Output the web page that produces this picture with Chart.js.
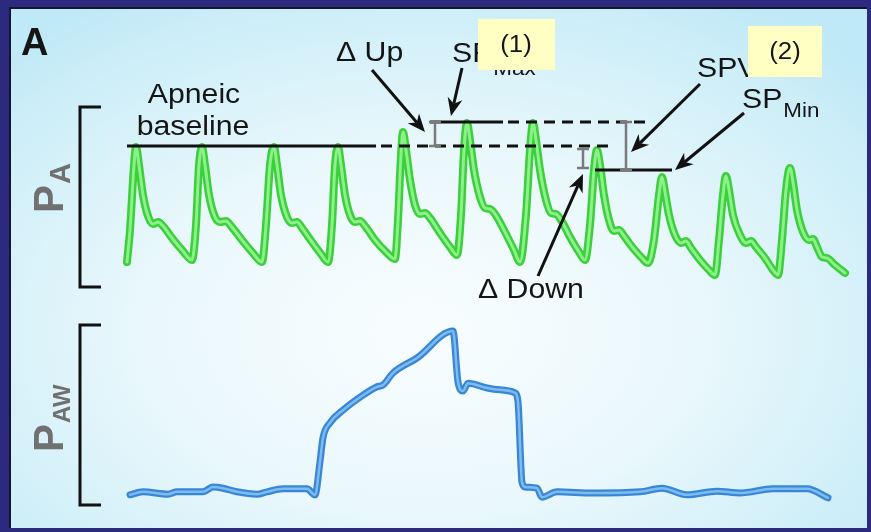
<!DOCTYPE html>
<html>
<head>
<meta charset="utf-8">
<script src="https://cdn.jsdelivr.net/npm/chart.js@4.4.1/dist/chart.umd.min.js"></script>
<style>
html, body { margin: 0; padding: 0; width: 871px; height: 532px; overflow: hidden; background: #2c2a7e; }
#panel {
    position: absolute; left: 9px; top: 7px; width: 858px; height: 521px; box-sizing: border-box;
    border-left: 2px solid #151530; border-top: 2px solid #151530;
    background: radial-gradient(ellipse 70% 75% at 48% 62%, #f8fdfe 0%, #eaf8fc 45%, #cdeef8 85%, #bfe9f6 100%);
}
canvas { position: absolute; left: 0; }
#graficaPA { top: 0; }
#graficaAW { top: 312px; }
</style>
</head>
<body>
<div id="panel"></div>
<canvas id="graficaPA" width="871" height="312"></canvas>
<canvas id="graficaAW" width="871" height="220"></canvas>
<script>
const tiempoPA = [
    270, 300, 340, 360, 390, 430, 480, 530, 580, 630, 720, 820, 920,
    960, 990, 1020, 1050, 1090, 1150, 1200, 1260, 1310, 1420, 1520, 1620,
    1660, 1700, 1740, 1770, 1810, 1870, 1920, 1970, 2020, 2120, 2210, 2280,
    2320, 2350, 2380, 2410, 2450, 2500, 2550, 2600, 2650, 2750, 2860, 2950,
    2980, 3010, 3030, 3060, 3100, 3150, 3200, 3250, 3300, 3400, 3500, 3570,
    3610, 3640, 3670, 3700, 3740, 3800, 3850, 3900, 3950, 4050, 4140, 4200,
    4260, 4300, 4330, 4360, 4400, 4460, 4510, 4560, 4610, 4700, 4790, 4850,
    4900, 4940, 4970, 5000, 5040, 5090, 5140, 5190, 5240, 5330, 5420, 5480,
    5540, 5590, 5620, 5650, 5690, 5750, 5810, 5860, 5910, 6000, 6090, 6150,
    6190, 6230, 6260, 6290, 6330, 6400, 6460, 6510, 6560, 6650, 6730, 6780,
    6820, 6860, 6900, 6930, 6970, 7030, 7090, 7130, 7170, 7220, 7270, 7350, 7450
];
const presionPA = [
    62.5, 78.5, 111, 120, 111, 96, 85.5, 81.5, 82.5, 80.5, 74.5, 68.5, 63.5,
    81, 111, 120, 111, 96, 85, 82.5, 83, 80.5, 73.5, 67.5, 62.5,
    81, 111, 120, 111, 96, 85, 82, 82.5, 79.5, 72.5, 66.5, 62.5,
    81, 111, 120, 111, 96, 86, 82.5, 83, 80.5, 73.5, 67.5, 64,
    83.5, 116, 127.5, 118.5, 103.5, 91, 86.5, 87, 84.5, 77, 70, 66,
    86, 118.5, 132, 123.5, 108.5, 95, 89.5, 89, 86.5, 77.5, 68.5, 62.5,
    86, 118.5, 132, 123.5, 108.5, 93.5, 87, 86.5, 83.5, 75, 67.5, 63.5,
    81, 108.5, 118.5, 111, 96, 83.5, 78, 78.5, 75.5, 69.5, 64.5, 62,
    73.5, 96, 105, 97.5, 86, 76, 72, 73, 69.5, 63.5, 58.5, 56,
    73.5, 96, 105.5, 98.5, 86, 76, 72, 73, 70, 64.5, 58.5, 56,
    73.5, 98.5, 109.5, 102.5, 88.5, 77.5, 73.5, 74, 70, 65, 64.5, 61, 57
];

// Presion de via aerea (cmH2O), trazo azul
const tiempoAW = [
    300, 430, 680, 770, 1030, 1130, 1230, 1370, 1570, 1670, 1830, 2070, 2150,
    2200, 2230, 2300, 2430, 2630, 2770, 2830, 2930, 3170, 3530,
    3580, 3630, 3680, 3870, 4000, 4150, 4180, 4220, 4250, 4370, 4420,
    4570, 4930, 5400, 5620, 5870, 6170, 6400, 6730, 7070, 7280
];
const presionAW = [
    1.7, 2.2, 1.8, 2.2, 2.2, 3.0, 2.8, 2.2, 1.8, 2.2, 2.7, 2.7, 1.7,
    7.2, 11.2, 13.7, 15.8, 18.3, 19.7, 20.0, 22.0, 24.5, 29.0,
    20.5, 19.0, 20.3, 19.5, 19.2, 18.7, 17.2, 3.8, 3.0, 2.8, 1.3,
    2.2, 2.0, 2.2, 2.8, 1.7, 2.3, 2.0, 2.7, 2.7, 1.2
];

// Rango de ejes (ms, mmHg, cmH2O)
const rangoTiempo = [0, 7600];
const rangoPA = [50, 140];
const rangoAW = [0, 30];

// Referencias marcadas en la figura (mmHg)
const lineaApnea = { valor: 120.5, inicio: 270, finSolida: 2760, fin: 5130 };
const lineaSPMax = { valor: 132.5, inicio: 3300, finSolida: 4030, fin: 5470 };
const lineaSPMin = { valor: 108.5, inicio: 4950, fin: 5720 };
const barraUp = { t: 3350, de: 132.5, a: 120.5 };
const barraSPV = { t: 5260, de: 132.5, a: 108.5 };
const barraDown = { t: 4830, de: 119, a: 109.5 };
// flechas: [t1, p1, t2, p2]
const flechaUp = [2720, 158.5, 3250, 127.5];
const flechaMax = [3620, 159.5, 3510, 135.5];
const flechaSPV = [6000, 151.5, 5310, 117.5];
const flechaMin = [6440, 137, 5750, 108.5];
const flechaDown = [4380, 55.5, 4830, 106.5];

const FUENTE = "'Liberation Sans', Arial, Helvetica, sans-serif";
const ESTIRA = 1.12; // el texto original sale un poco ensanchado

function puntos(xs, ys) {
    return xs.map((t, i) => ({ x: t, y: ys[i] }));
}

function flecha(ctx, x1, y1, x2, y2) {
    const ang = Math.atan2(y2 - y1, x2 - x1);
    const largo = 18, ancho = 7.5;
    const cos = Math.cos(ang), sin = Math.sin(ang);
    ctx.beginPath();
    ctx.moveTo(x1, y1);
    ctx.lineTo(x2 - cos * largo * 0.7, y2 - sin * largo * 0.7);
    ctx.stroke();
    ctx.beginPath();
    ctx.moveTo(x2, y2);
    ctx.lineTo(x2 - largo * cos + ancho * sin, y2 - largo * sin - ancho * cos);
    ctx.lineTo(x2 - largo * 0.7 * cos, y2 - largo * 0.7 * sin);
    ctx.lineTo(x2 - largo * cos - ancho * sin, y2 - largo * sin + ancho * cos);
    ctx.closePath();
    ctx.fill();
}

function barraI(ctx, x, y1, y2) {
    ctx.save();
    ctx.strokeStyle = '#7a7a7a';
    ctx.lineWidth = 2.5;
    ctx.beginPath();
    ctx.moveTo(x, y1); ctx.lineTo(x, y2);
    ctx.moveTo(x - 6, y1); ctx.lineTo(x + 6, y1);
    ctx.moveTo(x - 6, y2); ctx.lineTo(x + 6, y2);
    ctx.stroke();
    ctx.restore();
}

function corchete(ctx, x, yTop, yBot) {
    ctx.save();
    ctx.strokeStyle = '#111';
    ctx.lineWidth = 3;
    ctx.beginPath();
    ctx.moveTo(x + 21, yTop); ctx.lineTo(x, yTop); ctx.lineTo(x, yBot); ctx.lineTo(x + 21, yBot);
    ctx.stroke();
    ctx.restore();
}

function etiquetaVertical(ctx, base, sub, x, y, tamSub) {
    ctx.save();
    ctx.translate(x, y);
    ctx.rotate(-Math.PI / 2);
    ctx.fillStyle = '#707070';
    ctx.textAlign = 'left';
    ctx.textBaseline = 'alphabetic';
    ctx.font = 'bold 42px ' + FUENTE;
    ctx.fillText(base, 0, 0);
    const w = ctx.measureText(base).width;
    ctx.font = 'bold ' + tamSub + 'px ' + FUENTE;
    ctx.fillText(sub, w + 1, 7);
    ctx.restore();
}

// texto ensanchado; devuelve el ancho en pantalla
function texto(ctx, s, x, y, tam, align) {
    ctx.save();
    ctx.font = tam + 'px ' + FUENTE;
    ctx.textAlign = align || 'left';
    ctx.translate(x, y);
    ctx.scale(ESTIRA, 1);
    ctx.fillText(s, 0, 0);
    const w = ctx.measureText(s).width * ESTIRA;
    ctx.restore();
    return w;
}

function conSubindice(ctx, base, sub, x, y, baja) {
    const w = texto(ctx, base, x, y, 27);
    texto(ctx, sub, x + w + 1, y + baja, 20);
}

const anotacionesPA = {
    id: 'anotacionesPA',
    afterDatasetsDraw(chart) {
        const { ctx, scales: { x, y } } = chart;
        const px = v => x.getPixelForValue(v);
        const py = v => y.getPixelForValue(v);
        ctx.save();

        // corchete y etiqueta P_A
        corchete(ctx, px(rangoTiempo[0]) - 20, py(rangoPA[1]), py(rangoPA[0]));
        etiquetaVertical(ctx, 'P', 'A', 63, 213, 29);

        // lineas horizontales
        ctx.strokeStyle = '#111';
        ctx.lineWidth = 3;
        const tramo = (l) => {
            ctx.setLineDash([]);
            ctx.beginPath();
            ctx.moveTo(px(l.inicio), py(l.valor));
            ctx.lineTo(px(l.finSolida || l.fin), py(l.valor));
            ctx.stroke();
            if (l.finSolida) {
                ctx.setLineDash([11, 7]);
                ctx.beginPath();
                ctx.moveTo(px(l.finSolida) + 5, py(l.valor));
                ctx.lineTo(px(l.fin), py(l.valor));
                ctx.stroke();
            }
        };
        tramo(lineaApnea);
        tramo(lineaSPMax);
        tramo(lineaSPMin);
        ctx.setLineDash([]);

        // barras de diferencia
        [barraUp, barraSPV, barraDown].forEach(b => barraI(ctx, px(b.t), py(b.de), py(b.a)));

        // flechas
        ctx.strokeStyle = '#111';
        ctx.fillStyle = '#111';
        ctx.lineWidth = 3;
        [flechaUp, flechaMax, flechaSPV, flechaMin, flechaDown].forEach(f =>
            flecha(ctx, px(f[0]), py(f[1]), px(f[2]), py(f[3])));

        // textos
        ctx.fillStyle = '#151515';
        ctx.textBaseline = 'alphabetic';
        ctx.font = 'bold 38px ' + FUENTE;
        ctx.fillText('A', 21, 55);

        texto(ctx, 'Apneic', 194, 103, 27, 'center');
        texto(ctx, 'baseline', 193, 135, 27, 'center');
        texto(ctx, '\u0394 Up', 336, 61, 27);
        texto(ctx, '\u0394 Down', 478, 298, 27);

        conSubindice(ctx, 'SP', 'Max', 452, 62, 13);
        texto(ctx, 'SPV', 697, 77, 27);
        conSubindice(ctx, 'SP', 'Min', 742, 108, 9);

        // recuadros amarillos
        ctx.fillStyle = '#ffffc4';
        ctx.fillRect(478, 19, 77, 51);
        ctx.fillRect(748, 26, 74, 51);
        ctx.fillStyle = '#151515';
        ctx.textBaseline = 'middle';
        texto(ctx, '(1)', 516, 46, 23, 'center');
        texto(ctx, '(2)', 785, 53, 23, 'center');

        ctx.restore();
    }
};

const anotacionesAW = {
    id: 'anotacionesAW',
    afterDatasetsDraw(chart) {
        const { ctx, scales: { x, y } } = chart;
        corchete(ctx, x.getPixelForValue(rangoTiempo[0]) - 20, y.getPixelForValue(rangoAW[1]), y.getPixelForValue(rangoAW[0]));
        etiquetaVertical(ctx, 'P', 'AW', 63, 452 - 312, 24);
    }
};

function opciones(rangoY, padTop, padBottom) {
    return {
        responsive: false,
        animation: false,
        events: [],
        layout: { padding: { left: 100, right: 11, top: padTop, bottom: padBottom } },
        plugins: { legend: { display: false }, tooltip: { enabled: false } },
        scales: {
            x: { type: 'linear', min: rangoTiempo[0], max: rangoTiempo[1], display: false },
            y: { min: rangoY[0], max: rangoY[1], display: false }
        },
        elements: { point: { radius: 0 } }
    };
}

// dos pasadas sobre los mismos datos: borde oscuro y centro claro (el 0 se pinta encima)
function trazo(datos, colorFuera, colorDentro, anchoFuera, anchoDentro) {
    const comun = { data: datos, cubicInterpolationMode: 'monotone', clip: false, borderJoinStyle: 'round', borderCapStyle: 'round' };
    return [
        Object.assign({ borderColor: colorDentro, borderWidth: anchoDentro }, comun),
        Object.assign({ borderColor: colorFuera, borderWidth: anchoFuera }, comun)
    ];
}

const datosPA = puntos(tiempoPA, presionPA);
const datosAW = puntos(tiempoAW, presionAW);

new Chart(document.getElementById('graficaPA').getContext('2d'), {
    type: 'line',
    data: { datasets: trazo(datosPA, '#3ccf3c', '#8ef08a', 8, 3) },
    options: opciones(rangoPA, 107, 25),
    plugins: [anotacionesPA]
});

new Chart(document.getElementById('graficaAW').getContext('2d'), {
    type: 'line',
    data: { datasets: trazo(datosAW, '#3a86d6', '#7dbcef', 7, 2.5) },
    options: opciones(rangoAW, 13, 27),
    plugins: [anotacionesAW]
});
</script>
</body>
</html>
